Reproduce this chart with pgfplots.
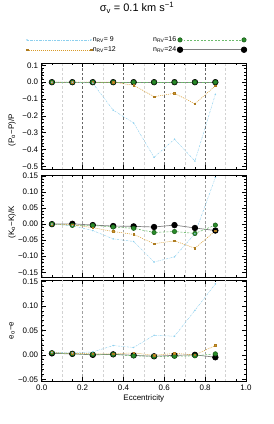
\documentclass[border=0pt]{standalone}
\usepackage{fontspec}
\setmainfont{Liberation Sans}
\usepackage{pgfplots}
\usepackage{pgfplotstable}
\pgfplotsset{compat=1.18}
\definecolor{c9}{HTML}{8ED0EE}
\definecolor{c12}{HTML}{D89A28}
\definecolor{c16}{HTML}{2A8C2A}
\definecolor{c16d}{HTML}{1B5E1B}
\definecolor{c16l}{HTML}{6DBB6D}

\pgfplotstableread{
x    n9     n12    n16  n24
0.05 0.000  0.000  0.0  0.0
0.15 0.000  0.000  0.0  0.0
0.25 -0.006 0.000  0.0  0.0
0.35 -0.166 0.000  0.0  0.0
0.45 -0.242 -0.018 0.0  0.0
0.55 -0.446 -0.086 0.0  0.0
0.65 -0.338 -0.066 0.0  0.0
0.75 -0.468 -0.128 0.0  0.0
0.85 -0.072 -0.022 0.0  0.0
}\tabP
\pgfplotstableread{
x    n9     n12    n16    n24
0.05 0.000  0.000  0.000  0.000
0.15 -0.005 -0.002 -0.004 0.001
0.25 -0.020 -0.011 -0.004 -0.003
0.35 -0.046 -0.023 -0.009 -0.006
0.45 -0.054 -0.032 -0.013 -0.007
0.55 -0.118 -0.061 -0.026 -0.009
0.65 -0.102 -0.052 -0.023 -0.003
0.75 -0.030 -0.075 -0.029 -0.012
0.85 0.145  -0.021 -0.003 -0.020
}\tabK
\pgfplotstableread{
x    n9    n12    n16    n24
0.05 0.005 0.005  0.004  0.003
0.15 0.004 0.003  0.002  0.002
0.25 0.006 0.002  0.001  0.000
0.35 0.019 0.002  0.001  0.001
0.45 0.015 0.004  -0.002 -0.001
0.55 0.040 -0.001 -0.003 -0.003
0.65 0.038 0.003  -0.003 -0.001
0.75 0.091 0.000  -0.002 0.000
0.85 0.145 0.019  0.002  -0.005
}\tabE

\tikzset{
 s9/.style={color=c9, line width=0.45pt, dash pattern=on 2pt off 1pt on 0.5pt off 1pt, mark=*, mark size=0.5pt, mark options={solid, fill=c9, draw=c9}},
 s12/.style={color=c12, line width=0.5pt, dash pattern=on 1pt off 1pt, mark=square*, mark size=0.8pt, mark options={solid, fill=c12, draw=c12!80!black}},
 s16/.style={color=c16l, line width=0.6pt, dash pattern=on 2pt off 1.5pt, mark=*, mark size=2.2pt, mark options={solid, fill=c16, draw=c16d}},
 s24/.style={color=gray, line width=0.7pt, mark=*, mark size=2.8pt, mark options={solid, fill=black, draw=black}},
}
\pgfplotsset{
 panel/.style={
  scale only axis, width=204.3bp, anchor=south west,
  xmin=0, xmax=1, xtick={0,0.2,0.4,0.6,0.8,1}, minor x tick num=3,
  tick pos=both, tick align=inside,
  major tick length=4bp, minor tick length=2bp,
  axis line style={line width=0.6pt},
  every tick/.style={black, line width=0.5pt},
  tick label style={font=\fontsize{8}{9}\selectfont},
  label style={font=\fontsize{8}{9}\selectfont},
  xmajorgrids,
  major grid style={gray!70, dash pattern=on 2.5pt off 2pt, line width=0.4pt},
  extra x ticks={0.1,0.3,0.5,0.7,0.9},
  extra x tick labels={},
  extra x tick style={xmajorgrids=true, major tick length=0pt, major grid style={gray!35, dash pattern=on 2.5pt off 2pt, line width=0.4pt}},
 },
}

\begin{document}
\begin{tikzpicture}
\path[use as bounding box] (0,0) rectangle (274bp,424bp);

% Panel 1
\begin{axis}[panel, at={(41.7bp,254.7bp)}, height=106bp,
  ymin=-0.517, ymax=0.112,
  ytick={-0.5,-0.4,-0.3,-0.2,-0.1,0,0.1},
  yticklabels={−0.5,−0.4,−0.3,−0.2,−0.1,0.0,0.1},
  minor y tick num=4, xticklabels={},
  major grid style={black!60, dash pattern=on 2.5pt off 2pt, line width=0.4pt},
  ylabel={(P\textsubscript{o}−P)/P},
  ylabel style={at={(axis description cs:-0.145,0.37)}, anchor=center, rotate=0},
  title={σ\textsubscript{v} = 0.1 km s\textsuperscript{−1}},
  title style={at={(axis description cs:0.466,1.465)}, anchor=center, font=\fontsize{11}{12}\selectfont},
]
\addplot[s24] table[x=x,y=n24]{\tabP};
\addplot[s16] table[x=x,y=n16]{\tabP};
\addplot[s12] table[x=x,y=n12]{\tabP};
\addplot[s9] table[x=x,y=n9]{\tabP};
\end{axis}

% Panel 2
\begin{axis}[panel, at={(41.7bp,146.7bp)}, height=102.3bp,
  ymin=-0.1656, ymax=0.153,
  ytick={-0.15,-0.1,-0.05,0,0.05,0.1,0.15},
  yticklabels={−0.15,−0.10,−0.05,0.00,0.05,0.10,0.15},
  minor y tick num=4, xticklabels={},
  major grid style={gray!75, dash pattern=on 2.5pt off 2pt, line width=0.4pt},
  ylabel={(K\textsubscript{o}−K)/K},
  ylabel style={at={(axis description cs:-0.145,0.54)}, anchor=center, rotate=0},
]
\addplot[s24] table[x=x,y=n24]{\tabK};
\addplot[s16] table[x=x,y=n16]{\tabK};
\addplot[s12] table[x=x,y=n12]{\tabK};
\addplot[s9] table[x=x,y=n9]{\tabK};
\end{axis}

% Panel 3
\begin{axis}[panel, at={(41.7bp,43bp)}, height=101bp,
  ymin=-0.0535, ymax=0.153,
  ytick={-0.05,0,0.05,0.1,0.15},
  yticklabels={−0.05,0.00,0.05,0.10,0.15},
  minor y tick num=4,
  xticklabels={0.0,0.2,0.4,0.6,0.8,1.0},
  major grid style={gray!75, dash pattern=on 2.5pt off 2pt, line width=0.4pt},
  ylabel={e\textsubscript{o}−e},
  ylabel style={at={(axis description cs:-0.145,0.5)}, anchor=center, rotate=0},
  xlabel={Eccentricity},
  xlabel style={at={(axis description cs:0.5,-0.168)}, anchor=center},
]
\addplot[s24] table[x=x,y=n24]{\tabE};
\addplot[s16] table[x=x,y=n16]{\tabE};
\addplot[s12] table[x=x,y=n12]{\tabE};
\addplot[s9] table[x=x,y=n9]{\tabE};
\end{axis}

% Legends
\begin{axis}[hide axis, scale only axis, width=274bp, height=424bp, at={(0bp,0bp)}, anchor=south west,
  xmin=0, xmax=1, ymin=0, ymax=1,
  legend style={at={(26/274,379.15/424)}, anchor=west, draw=none, fill=none,
    font=\fontsize{7}{8}\selectfont, row sep=1.5bp, inner sep=0pt, nodes={inner sep=1pt}},
  legend cell align=left,
  legend image code/.code={\draw[#1] plot coordinates {(0bp,0bp) (64bp,0bp)};},
]
\addlegendimage{s9}
\addlegendentry{n\textsubscript{RV}=\ 9}
\addlegendimage{s12}
\addlegendentry{n\textsubscript{RV}=12}
\end{axis}
\begin{axis}[hide axis, scale only axis, width=274bp, height=424bp, at={(0bp,0bp)}, anchor=south west,
  xmin=0, xmax=1, ymin=0, ymax=1,
  legend style={at={(247/274,379.15/424)}, anchor=east, draw=none, fill=none,
    font=\fontsize{7}{8}\selectfont, row sep=1.5bp, inner sep=0pt, nodes={inner sep=1pt}},
  legend cell align=right, legend plot pos=right,
  legend image code/.code={\draw[#1] plot coordinates {(0bp,0bp) (64bp,0bp)};},
]
\addlegendimage{s16}
\addlegendentry{n\textsubscript{RV}=16}
\addlegendimage{s24}
\addlegendentry{n\textsubscript{RV}=24}
\end{axis}
\end{tikzpicture}
\end{document}
